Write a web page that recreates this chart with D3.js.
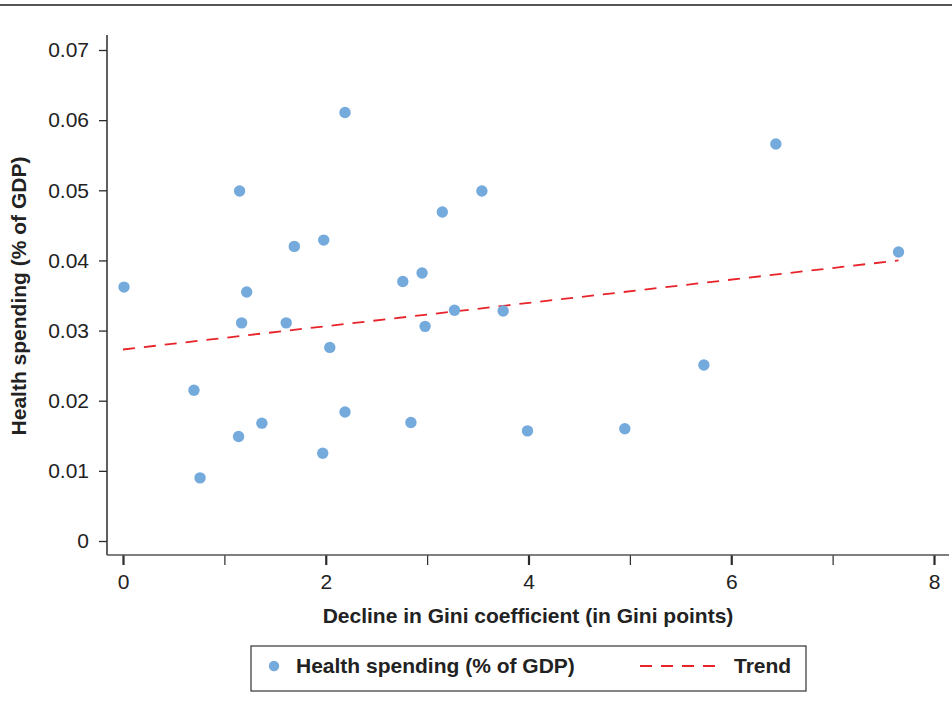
<!DOCTYPE html>
<html><head><meta charset="utf-8">
<script src="https://cdn.jsdelivr.net/npm/d3@7"></script>
<style>body{margin:0;background:#fff}svg{display:block;font-family:"Liberation Sans",Arial,Helvetica,sans-serif}</style>
</head><body><svg id="c" width="952" height="713"></svg>
<script>
const giniDecline = [0.01,0.70,0.76,1.15,1.17,1.22,1.14,1.37,1.61,1.69,1.98,2.04,1.97,2.19,2.19,2.76,2.84,2.95,2.98,3.15,3.27,3.54,3.75,3.99,4.95,5.73,6.44,7.65];
const healthSpending = [0.0362,0.0215,0.0090,0.0499,0.0311,0.0355,0.0149,0.0168,0.0311,0.0420,0.0429,0.0276,0.0125,0.0611,0.0184,0.0370,0.0169,0.0382,0.0306,0.0469,0.0329,0.0499,0.0328,0.0157,0.0160,0.0251,0.0566,0.0412];
const trendX = [0, 7.65];
const trendY = [0.0273, 0.0400];
const xTicks = [0,1,2,3,4,5,6,7,8];
const xLabels = ["0","","2","","4","","6","","8"];
const yTicks = [0,0.01,0.02,0.03,0.04,0.05,0.06,0.07];
const yLabels = ["0","0.01","0.02","0.03","0.04","0.05","0.06","0.07"];

const svg = d3.select("#c");
const x = d3.scaleLinear().domain([0,8]).range([123,934]);
const y = d3.scaleLinear().domain([0,0.07]).range([541,50]);
const axisColor = "#2b2b2b";
const FONT = "'Liberation Sans',Arial,sans-serif";

// top rule
svg.append("line").attr("x1",0).attr("x2",952).attr("y1",5).attr("y2",5).attr("stroke","#555").attr("stroke-width",2);

// y axis
const yAx = svg.append("g").attr("transform","translate(107,0)")
  .call(d3.axisLeft(y).tickValues(yTicks).tickFormat((d,i)=>yLabels[i]).tickSize(8).tickPadding(10));
yAx.select(".domain").remove();
yAx.append("line").attr("x1",0).attr("x2",0).attr("y1",35).attr("y2",555).attr("stroke",axisColor).attr("stroke-width",1.5);
yAx.selectAll(".tick line").attr("stroke",axisColor).attr("stroke-width",1.3);
yAx.selectAll(".tick text").attr("fill","#222").style("font-size","21px").style("font-family",FONT);

// x axis
const xAx = svg.append("g").attr("transform","translate(0,555)")
  .call(d3.axisBottom(x).tickValues(xTicks).tickFormat((d,i)=>xLabels[i]).tickSize(10).tickPadding(9));
xAx.select(".domain").remove();
xAx.append("line").attr("x1",107).attr("x2",949).attr("y1",0).attr("y2",0).attr("stroke","#555").attr("stroke-width",1.5);
xAx.selectAll(".tick line").attr("stroke",axisColor).attr("stroke-width",(d,i)=>xLabels[i]?2.2:1.2);
xAx.selectAll(".tick text").attr("fill","#222").style("font-size","21px").style("font-family",FONT);

// trend
const line = d3.line().x(d=>x(d[0])).y(d=>y(d[1]));
svg.append("path").datum(d3.zip(trendX,trendY)).attr("d",line)
  .attr("fill","none").attr("stroke","#e8232a").attr("stroke-width",1.8).attr("stroke-dasharray","12,9");

// points
svg.append("g").selectAll("circle").data(d3.zip(giniDecline,healthSpending)).join("circle")
  .attr("cx",d=>x(d[0])).attr("cy",d=>y(d[1])).attr("r",5.7).attr("fill","#75aadd");

// axis titles
svg.append("text").attr("x",528).attr("y",623).attr("text-anchor","middle")
  .style("font-size","21px").style("font-weight","bold").attr("fill","#222")
  .text("Decline in Gini coefficient (in Gini points)");
svg.append("text").attr("transform","translate(26,296) rotate(-90)").attr("text-anchor","middle")
  .style("font-size","21px").style("font-weight","bold").attr("fill","#222")
  .text("Health spending (% of GDP)");

// legend
const lg = svg.append("g");
lg.append("rect").attr("x",251).attr("y",646).attr("width",555).attr("height",45).attr("fill","none").attr("stroke","#333").attr("stroke-width",1.2);
lg.append("circle").attr("cx",274).attr("cy",666).attr("r",5.2).attr("fill","#75aadd");
lg.append("text").attr("x",296).attr("y",673).style("font-size","21px").style("font-weight","bold").attr("fill","#222").text("Health spending (% of GDP)");
lg.append("line").attr("x1",640).attr("x2",715).attr("y1",666).attr("y2",666).attr("stroke","#e8232a").attr("stroke-width",1.8).attr("stroke-dasharray","12,9");
lg.append("text").attr("x",734).attr("y",673).style("font-size","21px").style("font-weight","bold").attr("fill","#222").text("Trend");
</script></body></html>
